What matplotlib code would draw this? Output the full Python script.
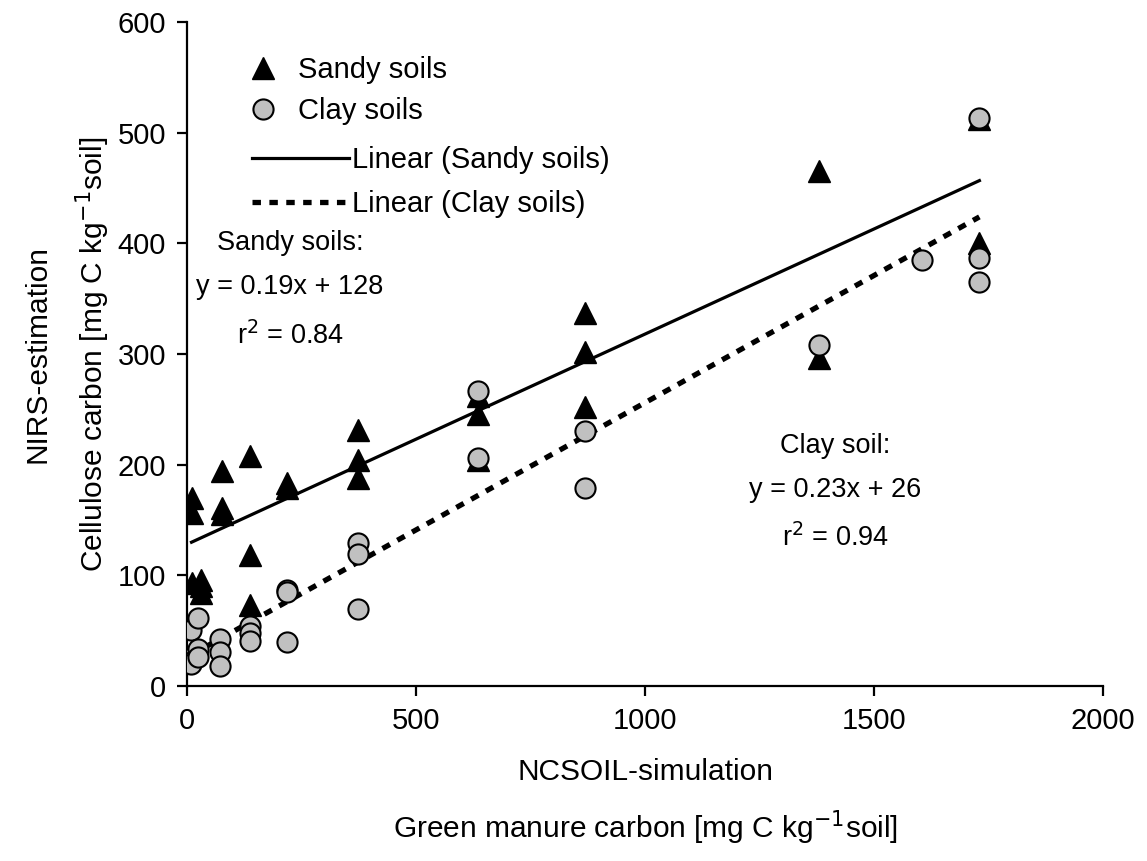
import numpy as np
import matplotlib
matplotlib.use("Agg")
import matplotlib.pyplot as plt
from matplotlib.lines import Line2D

plt.rcParams['font.family'] = ['Liberation Sans', 'DejaVu Sans']

# Sandy soils (NCSOIL-simulation vs NIRS-estimation)
sandy_x = [10, 10, 10, 30, 30, 30, 76, 76, 76, 137, 137, 137, 218, 218,
           374, 374, 374, 636, 636, 636, 869, 869, 869, 1380, 1380, 1730, 1730]
sandy_y = [170, 156, 93, 96, 90, 84, 194, 161, 155, 208, 118, 73, 183, 179,
           231, 204, 188, 262, 246, 204, 337, 302, 252, 465, 296, 512, 400]

# Clay soils
clay_x = [8, 8, 8, 8, 25, 25, 25, 72, 72, 72, 137, 137, 137, 218, 218, 218,
          374, 374, 374, 636, 636, 869, 869, 1380, 1605, 1730, 1730, 1730]
clay_y = [51, 25, 22, 20, 61, 33, 26, 42, 31, 18, 54, 48, 41, 87, 85, 40,
          129, 119, 70, 267, 206, 230, 179, 308, 385, 513, 387, 365]

# trend line coefficients given in the chart
sandy_fit = (0.19, 128)
clay_fit = (0.23, 26)

fig = plt.figure(figsize=(11.47, 8.61), dpi=100)
ax = fig.add_axes([0.163, 0.2033, 0.7987, 0.7711])

xs = np.array([min(sandy_x), max(sandy_x)])
ax.plot(xs, sandy_fit[0] * xs + sandy_fit[1], color='black', lw=2.3, zorder=2)
xc = np.array([min(clay_x), max(clay_x)])
ax.plot(xc, clay_fit[0] * xc + clay_fit[1], color='black', lw=3.8,
        linestyle=(0, (1.6, 1.6)), zorder=2)

ax.plot(sandy_x, sandy_y, linestyle='none', marker='^', markersize=16,
        color='black', markeredgecolor='black', zorder=3)
ax.plot(clay_x, clay_y, linestyle='none', marker='o', markersize=14.5,
        markerfacecolor='#c0c0c0', markeredgecolor='black', markeredgewidth=1.5,
        zorder=4)

ax.set_xlim(0, 2000)
ax.set_ylim(0, 600)
ax.set_xticks([0, 500, 1000, 1500, 2000])
ax.set_yticks([0, 100, 200, 300, 400, 500, 600])
ax.spines['top'].set_visible(False)
ax.spines['right'].set_visible(False)
ax.spines['left'].set_linewidth(1.6)
ax.spines['bottom'].set_linewidth(1.6)
ax.tick_params(direction='out', length=7, width=1.6, labelsize=21, pad=8)

ax.set_xlabel('NCSOIL-simulation\nGreen manure carbon [mg C kg$^{-1}$soil]',
              fontsize=21.5, linespacing=1.75, labelpad=17)
ax.set_ylabel('NIRS-estimation\nCellulose carbon [mg C kg$^{-1}$soil]',
              fontsize=21.5, linespacing=1.75, labelpad=4)

ax.text(225, 358, 'Sandy soils:\ny = 0.19x + 128\nr$^2$ = 0.84',
        ha='center', va='center', fontsize=19.5, linespacing=1.93)
ax.text(1415, 175, 'Clay soil:\ny = 0.23x + 26\nr$^2$ = 0.94',
        ha='center', va='center', fontsize=19.5, linespacing=1.9)

h1 = [Line2D([], [], linestyle='none', marker='^', markersize=16, color='black'),
      Line2D([], [], linestyle='none', marker='o', markersize=14.5,
             markerfacecolor='#c0c0c0', markeredgecolor='black', markeredgewidth=1.5)]
leg1 = ax.legend(h1, ['Sandy soils', 'Clay soils'], loc='upper left',
                 bbox_to_anchor=(0.037, 0.988), frameon=False, fontsize=21,
                 handlelength=1.1, handletextpad=0.65, labelspacing=0.45)
ax.add_artist(leg1)
h2 = [Line2D([], [], color='black', lw=2.3),
      Line2D([], [], color='black', lw=3.8, linestyle=(0, (1.6, 1.6)))]
ax.legend(h2, ['Linear (Sandy soils)', 'Linear (Clay soils)'], loc='upper left',
          bbox_to_anchor=(0.042, 0.853), frameon=False, fontsize=21,
          handlelength=3.35, handletextpad=0.1, labelspacing=0.55)

fig.savefig('out.png', dpi=100)
